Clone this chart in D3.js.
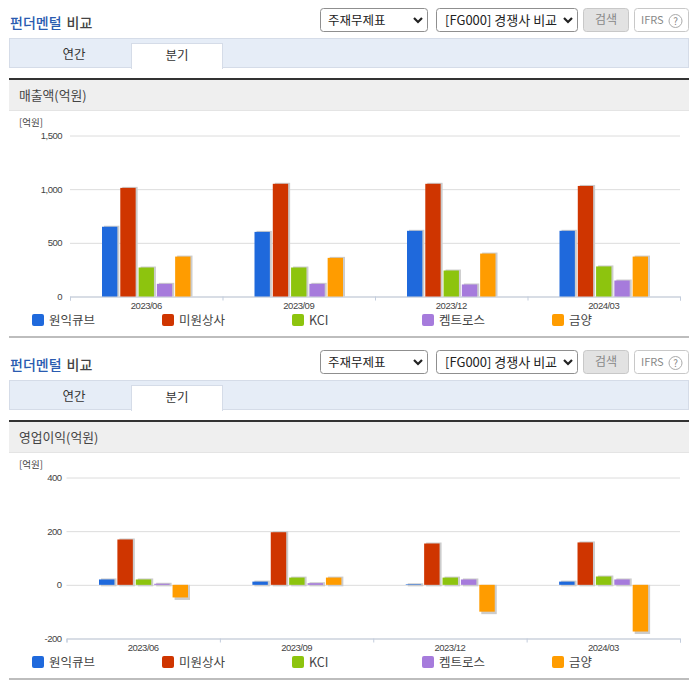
<!DOCTYPE html>
<html>
<head>
<meta charset="utf-8">
<script src="https://cdn.jsdelivr.net/npm/d3@7"></script>
<style>
    html, body { margin: 0; padding: 0; background: #fff; overflow: hidden; }
    text { font-family: "Noto Sans CJK KR", "Noto Sans", sans-serif; }
</style>
</head>
<body>
<div id="chart"></div>
<script>
var categories = ['2023/06', '2023/09', '2023/12', '2024/03'];
var seriesNames = ['원익큐브', '미원상사', 'KCI', '켐트로스', '금양'];
var seriesColors = ['#1f69dc', '#cf3500', '#8dc40e', '#a67bdc', '#ff9c00'];

// 매출액
var salesWonik = [650, 602, 612, 612];
var salesMiwon = [1012, 1050, 1050, 1030];
var salesKci = [270, 270, 242, 280];
var salesChemtros = [118, 118, 112, 149];
var salesKumyang = [372, 360, 400, 372];
var salesTicks = [0, 500, 1000, 1500];

// 영업이익
var profitWonik = [20, 12, 2, 12];
var profitMiwon = [169, 196, 154, 158];
var profitKci = [20, 27, 27, 31];
var profitChemtros = [4, 6, 20, 20];
var profitKumyang = [-47, 27, -100, -174];
var profitTicks = [-200, 0, 200, 400];

var tabNames = ['연간', '분기'];

var svg = d3.select('#chart').append('svg')
    .attr('width', 696)
    .attr('height', 684)
    .style('display', 'block');

function label(g, x, y, str, size, color, anchor, weight) {
    return g.append('text')
        .attr('x', x)
        .attr('y', y)
        .attr('font-size', size)
        .attr('fill', color)
        .attr('text-anchor', anchor || 'start')
        .attr('font-weight', weight || 400)
        .text(str);
}

function box(g, x, y, w, h, fill, stroke, r) {
    return g.append('rect')
        .attr('x', x + 0.5)
        .attr('y', y + 0.5)
        .attr('width', w - 1)
        .attr('height', h - 1)
        .attr('rx', r || 0)
        .attr('fill', fill)
        .attr('stroke', stroke);
}

function drawHeader(g, title) {
    var head = g.append('text').attr('x', 10).attr('y', 28).attr('font-size', 14).attr('font-weight', 500);
    head.append('tspan').attr('fill', '#2a5bb0').text('펀더멘털');
    head.append('tspan').attr('fill', '#444').attr('dx', 5).text('비교');

    box(g, 320, 8, 108, 24, '#fff', '#8f8f8f', 3);
    label(g, 328, 25, '주재무제표', 12.5, '#222');
    box(g, 436, 8, 142, 24, '#fff', '#8f8f8f', 3);
    label(g, 445, 25, '[FG000] 경쟁사 비교', 13, '#222');
    [418, 568].forEach(function(ax) {
        g.append('path')
            .attr('d', 'M' + (ax - 4) + ',18l4,4l4,-4')
            .attr('fill', 'none')
            .attr('stroke', '#222')
            .attr('stroke-width', 2.2);
    });

    box(g, 583, 8, 46, 24, '#e2e2e2', '#c8c8c8', 3);
    label(g, 606, 24, '검색', 12, '#888', 'middle');
    box(g, 634, 8, 55, 24, '#fff', '#c8c8c8', 3);
    label(g, 641, 24, 'IFRS', 11, '#888');
    g.append('circle').attr('cx', 675.5).attr('cy', 21).attr('r', 6.5).attr('fill', '#fff').attr('stroke', '#aaa');
    label(g, 675.5, 25, '?', 10, '#888', 'middle');

    box(g, 9, 38, 680, 30, '#e6edf7', '#d5dce8');
    box(g, 131, 43, 92, 26, '#fff', '#d5dce8');
    g.append('rect').attr('x', 132).attr('y', 67).attr('width', 90).attr('height', 2).attr('fill', '#fff');
    label(g, 74, 59, tabNames[0], 12.5, '#333', 'middle');
    label(g, 177, 60, tabNames[1], 12.5, '#333', 'middle');

    g.append('rect').attr('x', 9).attr('y', 78).attr('width', 680).attr('height', 2).attr('fill', '#333');
    g.append('rect').attr('x', 9).attr('y', 80).attr('width', 680).attr('height', 30).attr('fill', '#efefef');
    g.append('rect').attr('x', 9).attr('y', 110).attr('width', 680).attr('height', 1).attr('fill', '#e4e4e4');
    label(g, 19, 99.5, title, 12.8, '#444');
}

function drawChart(g, opts) {
    var y = d3.scaleLinear().domain(d3.extent(opts.ticks)).range([opts.bottom, opts.top]);
    var x0 = d3.scaleBand().domain(categories).range([opts.left, 680]);
    var x1 = d3.scaleBand().domain(seriesNames)
        .range(opts.barRange)
        .paddingInner(0.16);
    var edges = d3.scaleLinear().domain([0, categories.length]).range([opts.left, 680]);

    label(g, 19, 126, '[억원]', 9.5, '#444');

    var yAxis = g.append('g')
        .attr('transform', 'translate(' + opts.left + ',0)')
        .call(d3.axisLeft(y)
            .tickValues(opts.ticks)
            .tickSize(-(680 - opts.left))
            .tickPadding(opts.left === 70 ? 8 : 5)
            .tickFormat(function(d) { return d3.format(',')(d).replace('\u2212', '-'); }));
    yAxis.select('.domain').remove();
    yAxis.selectAll('line').attr('stroke', '#dcdcdc');
    yAxis.selectAll('text')
        .attr('font-size', 9.5)
        .attr('letter-spacing', -0.5)
        .attr('fill', '#444')
        .style('font-family', '"Liberation Sans", sans-serif');

    var xAxis = g.append('g')
        .attr('transform', 'translate(0,' + opts.bottom + ')')
        .call(d3.axisBottom(edges).ticks(categories.length).tickSize(4).tickFormat(''));
    xAxis.select('.domain').attr('stroke', '#c3cddd');
    xAxis.selectAll('line').attr('stroke', '#c3cddd');

    var catLabels = g.append('g')
        .attr('transform', 'translate(0,' + opts.bottom + ')')
        .call(d3.axisBottom(x0).tickSize(0).tickPadding(6));
    catLabels.select('.domain').remove();
    catLabels.selectAll('text')
        .attr('font-size', 9.5)
        .attr('letter-spacing', -0.5)
        .attr('fill', '#444')
        .style('font-family', '"Liberation Sans", sans-serif');

    var groups = g.selectAll('.bars')
        .data(opts.values)
        .enter().append('g')
        .attr('class', 'bars');

    // bars with a soft grey drop shadow, like the original chart
    groups.each(function(vals, s) {
        var row = d3.select(this);
        vals.forEach(function(v, c) {
            var bx = x0(categories[c]) + x1(seriesNames[s]);
            var by = y(Math.max(v, 0));
            var bh = Math.abs(y(v) - y(0));
            row.append('rect')
                .attr('x', bx + 2)
                .attr('y', by - (v >= 0 ? 1 : 0))
                .attr('width', x1.bandwidth())
                .attr('height', bh + 1 + opts.shadowDrop)
                .attr('fill', '#cccccc');
            row.append('rect')
                .attr('x', bx)
                .attr('y', by)
                .attr('width', x1.bandwidth())
                .attr('height', bh)
                .attr('fill', seriesColors[s]);
        });
    });

    var legendX = d3.scalePoint().domain(seriesNames).range([32, 552]);
    seriesNames.forEach(function(name, i) {
        g.append('rect')
            .attr('x', legendX(name))
            .attr('y', 314)
            .attr('width', 12)
            .attr('height', 12)
            .attr('rx', 2)
            .attr('fill', seriesColors[i]);
        label(g, legendX(name) + 17, 325, name, 12.5, '#444');
    });

    g.append('rect').attr('x', 9).attr('y', 336).attr('width', 680).attr('height', 2).attr('fill', '#bdbdbd');
}

var top1 = svg.append('g');
drawHeader(top1, '매출액(억원)');
drawChart(top1, {
    ticks: salesTicks,
    values: [salesWonik, salesMiwon, salesKci, salesChemtros, salesKumyang],
    left: 70,
    top: 135.5,
    bottom: 296.5,
    barRange: [32, 120.5],
    shadowDrop: 0
});

var bottom1 = svg.append('g').attr('transform', 'translate(0,342)');
drawHeader(bottom1, '영업이익(억원)');
drawChart(bottom1, {
    ticks: profitTicks,
    values: [profitWonik, profitMiwon, profitKci, profitChemtros, profitKumyang],
    left: 66.5,
    top: 135.5,
    bottom: 296.5,
    barRange: [32.5, 121.5],
    shadowDrop: 1.5
});
</script>
</body>
</html>
